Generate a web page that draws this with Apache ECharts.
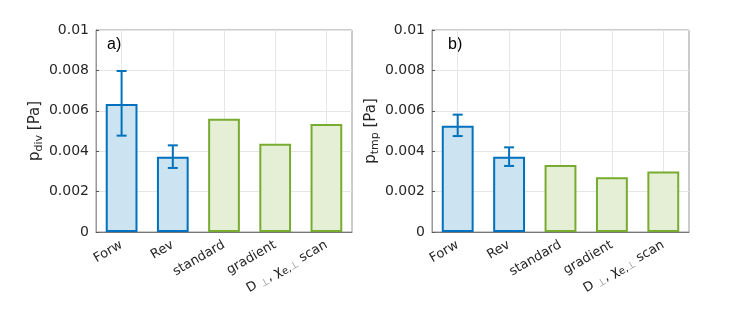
<!DOCTYPE html>
<html>
<head>
<meta charset="utf-8">
<script src="https://cdn.jsdelivr.net/npm/echarts@6/dist/echarts.min.js"></script>
<style>
  html, body { margin: 0; padding: 0; background: #fff; }
  #chart { width: 756px; height: 321px; }
</style>
</head>
<body>
<div id="chart"></div>
<script>
// data
const categories = ['Forw', 'Rev', 'standard', 'gradient', 'scan'];
const pDiv = [0.00634, 0.00373, 0.00561, 0.00437, 0.00535];
const pDivLow = [0.00477, 0.00317];
const pDivHigh = [0.00797, 0.00429];
const pTmp = [0.00526, 0.00373, 0.00332, 0.00271, 0.00299];
const pTmpLow = [0.00475, 0.00327];
const pTmpHigh = [0.00581, 0.00419];
const yTicks = [0, 0.002, 0.004, 0.006, 0.008, 0.01];

const blue = '#0072BD', blueFill = '#cce3f2';
const green = '#77AC30', greenFill = '#e4efd6';

const chart = echarts.init(document.getElementById('chart'));

function barData(vals) {
  return vals.map((v, i) => ({
    value: v,
    itemStyle: i < 2
      ? { color: blueFill, borderColor: blue, borderWidth: 2 }
      : { color: greenFill, borderColor: green, borderWidth: 2 }
  }));
}

function errData(low, high) {
  return low.map((l, i) => [i, l, high[i]]);
}

function renderErr(params, api) {
  const x = api.value(0);
  const lo = api.coord([x, api.value(1)]);
  const hi = api.coord([x, api.value(2)]);
  const w = 5;
  const st = { stroke: blue, lineWidth: 2 };
  return {
    type: 'group',
    children: [
      { type: 'line', shape: { x1: lo[0], y1: lo[1], x2: hi[0], y2: hi[1] }, style: st },
      { type: 'line', shape: { x1: lo[0] - w, y1: lo[1], x2: lo[0] + w, y2: lo[1] }, style: st },
      { type: 'line', shape: { x1: hi[0] - w, y1: hi[1], x2: hi[0] + w, y2: hi[1] }, style: st }
    ]
  };
}

const labelRich = {
  sub: { fontSize: 10, color: '#999', verticalAlign: 'bottom', padding: [6, 0, 0, 0], fontFamily: 'DejaVu Sans' },
  subd: { fontSize: 10, color: '#262626', verticalAlign: 'bottom', padding: [6, 0, 0, 0], fontFamily: 'DejaVu Sans' }
};

function xAxisFor(idx) {
  return {
    type: 'category',
    gridIndex: idx,
    data: categories,
    axisLine: { show: true, lineStyle: { color: '#777', width: 1 } },
    axisTick: { show: true, inside: true, alignWithLabel: true, length: 3, lineStyle: { color: '#555' } },
    splitLine: { show: true, alignWithLabel: true, lineStyle: { color: '#e6e6e6' } },
    axisLabel: {
      interval: 0, rotate: 30, margin: 12, color: '#262626', fontSize: 13, fontFamily: 'DejaVu Sans',
      formatter: v => v === 'scan' ? 'D {sub|⊥}, χ{subd|e,}{sub|⊥} scan' : v,
      rich: labelRich
    }
  };
}

function yAxisFor(idx, sub) {
  return {
    type: 'value',
    gridIndex: idx,
    min: 0, max: 0.01, interval: 0.002,
    name: '{p|p}{s|' + sub + '}{p| [Pa]}',
    nameLocation: 'middle',
    nameGap: 50,
    nameRotate: 90,
    nameTextStyle: {
      rich: {
        p: { fontSize: 15, color: '#262626', fontFamily: 'DejaVu Sans' },
        s: { fontSize: 11, color: '#262626', fontFamily: 'DejaVu Sans', verticalAlign: 'bottom', padding: [8, 0, 0, 0] }
      }
    },
    axisLine: { show: true, lineStyle: { color: '#999' } },
    axisTick: { show: true, inside: true, length: 3, lineStyle: { color: '#555' } },
    splitLine: { show: true, lineStyle: { color: '#e6e6e6' } },
    axisLabel: {
      color: '#262626', fontSize: 14, fontFamily: 'DejaVu Sans', margin: 7,
      formatter: v => {
        const t = yTicks.find(k => Math.abs(k - v) < 1e-9);
        return t === undefined ? '' : String(+t.toFixed(3));
      }
    }
  };
}

const option = {
  backgroundColor: '#fff',
  animation: false,
  grid: [
    { left: 96, top: 30, width: 256, height: 202, show: true, borderColor: '#999', borderWidth: 1, containLabel: false },
    { left: 432, top: 30, width: 257, height: 202, show: true, borderColor: '#999', borderWidth: 1, containLabel: false }
  ],
  xAxis: [xAxisFor(0), xAxisFor(1)],
  yAxis: [yAxisFor(0, 'div'), yAxisFor(1, 'tmp')],
  graphic: [
    { type: 'text', left: 107, top: 37, style: { text: 'a)', fontSize: 16, fill: '#000', fontFamily: 'Liberation Sans' } },
    { type: 'text', left: 448, top: 37, style: { text: 'b)', fontSize: 16, fill: '#000', fontFamily: 'Liberation Sans' } }
  ],
  series: [
    { type: 'bar', xAxisIndex: 0, yAxisIndex: 0, data: barData(pDiv), barWidth: '62%' },
    { type: 'custom', xAxisIndex: 0, yAxisIndex: 0, data: errData(pDivLow, pDivHigh), renderItem: renderErr, z: 5 },
    { type: 'bar', xAxisIndex: 1, yAxisIndex: 1, data: barData(pTmp), barWidth: '62%' },
    { type: 'custom', xAxisIndex: 1, yAxisIndex: 1, data: errData(pTmpLow, pTmpHigh), renderItem: renderErr, z: 5 }
  ]
};

chart.setOption(option);
</script>
</body>
</html>
